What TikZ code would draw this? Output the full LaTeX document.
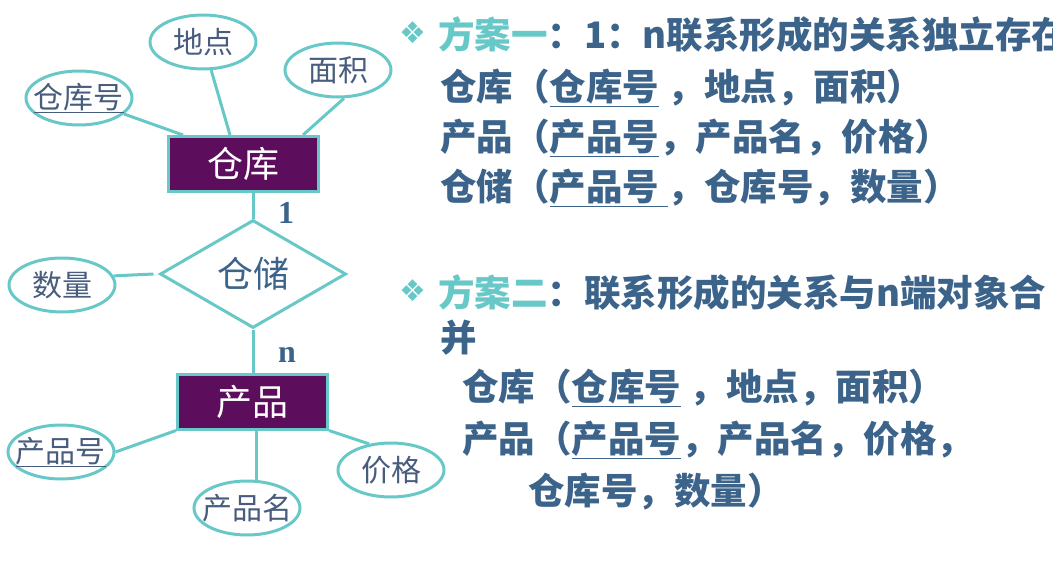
\documentclass[tikz,border=0pt]{standalone}
\usepackage{fontspec}
\usetikzlibrary{shapes.geometric,positioning}
\newfontfamily\cjk{Noto Sans CJK SC}
\newfontfamily\symfont{DejaVu Sans}
\newfontfamily\serifnum{Liberation Serif}
\definecolor{erteal}{RGB}{104,200,200}
\definecolor{erpurple}{RGB}{92,14,92}
\definecolor{attrtext}{RGB}{72,92,125}
\definecolor{txtblue}{RGB}{60,100,138}

\begin{document}
\begin{tikzpicture}[x=1pt,y=-1pt,
  entity/.style={draw=erteal,line width=3pt,fill=erpurple,text=white,
    minimum width=150pt,minimum height=55pt,inner sep=0pt,
    font=\cjk\fontsize{36}{40}\selectfont},
  attr/.style={ellipse,draw=erteal,line width=3pt,minimum width=106pt,
    minimum height=54pt,inner xsep=-9pt,inner ysep=0pt,text=attrtext,
    font=\cjk\fontsize{30}{34}\selectfont},
  relship/.style={diamond,draw=erteal,line width=3pt,aspect=1.7,
    minimum width=186pt,minimum height=108pt,inner sep=0pt,text=txtblue,
    font=\cjk\fontsize{36}{40}\selectfont},
  link/.style={draw=erteal,line width=3pt},
  card/.style={text=txtblue,font=\serifnum\bfseries\fontsize{32}{34}\selectfont},
  bullet/.style={text=erteal,inner sep=0pt,font=\symfont\fontsize{30}{32}\selectfont},
  row/.style={anchor=west,inner sep=0pt,text=txtblue,
    font=\cjk\bfseries\fontsize{36.5}{40}\selectfont}]
  \useasboundingbox (0,0) rectangle (1053,586);

  % entities and relationship
  \node[entity] (ck) at (243.5,164) {仓库};
  \node[relship] (cc) at (253,274) {仓储};
  \node[entity] (cp) at (252.5,401.5) {产品};

  % attributes
  \node[attr] (ckh) at (79,98) {\underline{仓库号}};
  \node[attr] (dd) at (203,42) {地点};
  \node[attr] (mj) at (338,70) {面积};
  \node[attr] (sl) at (62,285) {数量};
  \node[attr] (cph) at (61,452) {\underline{产品号}};
  \node[attr] (cpm) at (247,508) {产品名};
  \node[attr] (jg) at (391,470) {价格};

  \node[card] (one) at (286,213) {1};
  \node[card] (many) at (287,355) {n};

  \draw[link] (ckh) -- ([xshift=16pt]ck.north west);
  \draw[link] (dd) -- ([xshift=63pt]ck.north west);
  \draw[link] (mj.-78) -- ([xshift=136pt]ck.north west);
  \draw[link] (ck.south -| cc.north) -- (cc.north);
  \draw[link] (cc.south) -- (cc.south |- cp.north);
  \draw[link] (sl.10) -- ([xshift=-5pt]cc.west);
  \draw[link] (cph.east) -- (cp.south west);
  \draw[link] ([xshift=4pt]cp.south) -- ([xshift=4pt]cp.south |- cpm.north);
  \draw[link] (cp.south east) -- (jg.130);

  % scheme one
  \node[bullet] (b1) at (413,33) {❖};
  \node[row] (h1) at (438,35) {\textcolor{erteal}{方案一}：1：n联系形成的关系独立存在};
  \node[row] (a1) at (440,88) {仓库（\underline{仓库号}\ ，地点，面积）};
  \node[row] (a2) at (440,138) {产品（\underline{产品号}，产品名，价格）};
  \node[row] (a3) at (440,188) {仓储（\underline{产品号\ }，仓库号，数量）};

  % scheme two
  \node[bullet] (b2) at (413,291) {❖};
  \node[row] (h2) at (438,293) {\textcolor{erteal}{方案二}：联系形成的关系与n端对象合};
  \node[row] (h2b) at (440,338) {并};
  \node[row] (c1) at (462,388) {仓库（\underline{仓库号}\ ，地点，面积）};
  \node[row] (c2) at (462,440) {产品（\underline{产品号}，产品名，价格，};
  \node[row] (c3) at (528,492) {仓库号，数量）};
\end{tikzpicture}
\end{document}
